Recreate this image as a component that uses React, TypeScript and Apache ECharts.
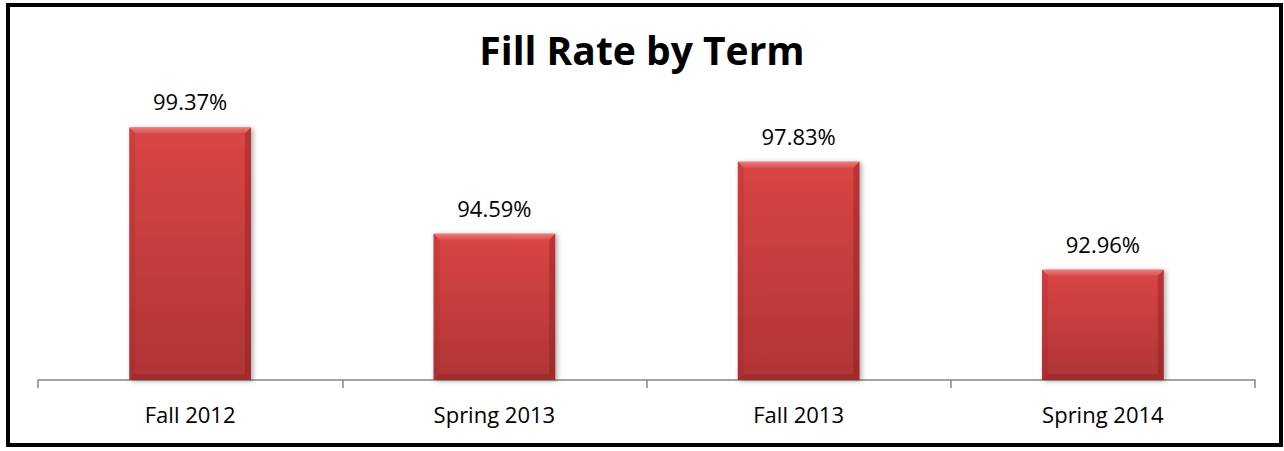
import React, { useEffect, useRef } from "react";
import * as echarts from "echarts";

const categories = ["Fall 2012", "Spring 2013", "Fall 2013", "Spring 2014"];
const fillRates = [99.37, 94.59, 97.83, 92.96];
const chartTitle = "Fill Rate by Term";

const FONT = "'Open Sans', 'Liberation Sans', sans-serif";

export default function App() {
  const ref = useRef<HTMLDivElement>(null);
  useEffect(() => {
    document.body.style.margin = "0";
    const chart = echarts.init(ref.current!, null, { renderer: "svg" });
    const bevel = 6;
    chart.setOption({
      animation: false,
      backgroundColor: "#ffffff",
      title: {
        text: chartTitle,
        left: "center",
        top: 25,
        textStyle: { fontFamily: FONT, fontSize: 39, fontWeight: "bold", color: "#000" },
      },
      graphic: [
        {
          type: "rect",
          shape: { x: 8, y: 5, width: 1273, height: 440 },
          style: { fill: "none", stroke: "#000", lineWidth: 4 },
          z: 100,
          silent: true,
        },
      ],
      grid: { left: 38, right: 29, top: 113.5, bottom: 71 },
      xAxis: {
        type: "category",
        data: categories,
        boundaryGap: true,
        axisLine: { lineStyle: { color: "#868686", width: 1.5 } },
        axisTick: { show: true, inside: false, length: 8, alignWithLabel: false, lineStyle: { color: "#868686", width: 1.5 } },
        axisLabel: { fontFamily: FONT, fontSize: 22, color: "#000", margin: 23 },
      },
      yAxis: {
        type: "value",
        min: 88,
        max: 100,
        show: false,
        splitLine: { show: false },
      },
      series: [
        {
          type: "bar",
          data: fillRates,
          barWidth: "40%",
          itemStyle: {
            color: new echarts.graphic.LinearGradient(0, 0, 0, 1, [
              { offset: 0, color: "#da4545" },
              { offset: 1, color: "#b03535" },
            ]),
            shadowColor: "rgba(0,0,0,0.35)",
            shadowBlur: 5,
            shadowOffsetX: 2,
            shadowOffsetY: 1,
          },
          label: {
            show: true,
            position: "top",
            distance: 15,
            fontFamily: FONT,
            fontSize: 22,
            color: "#000",
            formatter: (p: any) => p.value.toFixed(2) + "%",
          },
        },
        {
          type: "custom",
          silent: true,
          z: 3,
          data: fillRates.map((v, i) => [i, v]),
          renderItem: (params: any, api: any) => {
            const top = api.coord([api.value(0), api.value(1)]);
            const bottom = api.coord([api.value(0), 88]);
            const bw = api.size([1, 0])[0] * 0.4;
            const x0 = top[0] - bw / 2;
            const x1 = top[0] + bw / 2;
            const y0 = top[1];
            const y1 = bottom[1];
            const b = bevel;
            return {
              type: "group",
              children: [
                {
                  type: "polygon",
                  shape: { points: [[x0, y0], [x1, y0], [x1 - b, y0 + b], [x0 + b, y0 + b]] },
                  style: {
                    fill: new echarts.graphic.LinearGradient(0, 0, 0, 1, [
                      { offset: 0, color: "#ee7a7a" },
                      { offset: 1, color: "#de5050" },
                    ]),
                  },
                },
                {
                  type: "polygon",
                  shape: { points: [[x0, y0], [x0 + b, y0 + b], [x0 + b, y1 - b], [x0, y1]] },
                  style: { fill: "rgba(150,30,30,0.18)" },
                },
                {
                  type: "polygon",
                  shape: { points: [[x1, y0], [x1 - b, y0 + b], [x1 - b, y1 - b], [x1, y1]] },
                  style: { fill: "rgba(120,20,20,0.32)" },
                },
                {
                  type: "polygon",
                  shape: { points: [[x0, y1], [x0 + b, y1 - b], [x1 - b, y1 - b], [x1, y1]] },
                  style: { fill: "rgba(120,20,20,0.28)" },
                },
              ],
            };
          },
        },
      ],
    });
    return () => chart.dispose();
  }, []);
  return <div ref={ref} style={{ width: 1284, height: 451 }} />;
}
